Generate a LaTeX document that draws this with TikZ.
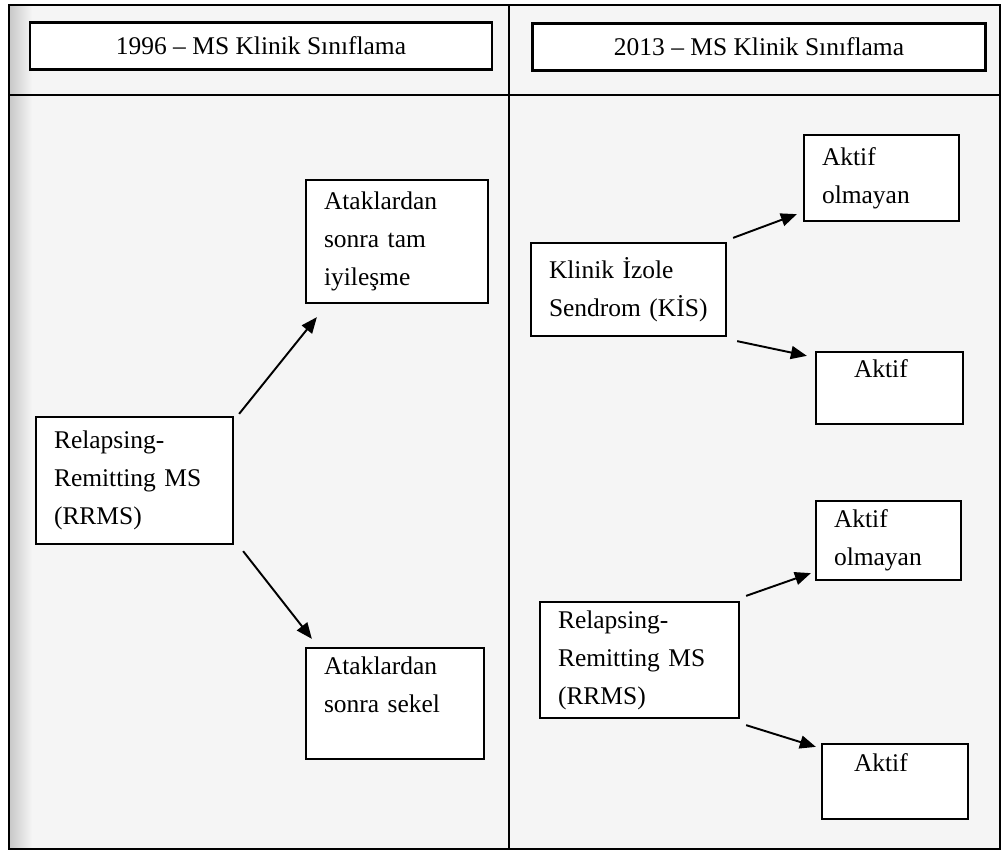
\documentclass[tikz,border=0pt]{standalone}
\usepackage{fontspec}
\setmainfont{Liberation Serif}
\usetikzlibrary{arrows.meta}

\begin{document}
\begin{tikzpicture}[
	x=0.02cm, y=-0.02cm,
	font=\fontsize{14.5}{21.6}\selectfont,
	box/.style={draw, line width=1.3pt, fill=white, align=left, inner xsep=0.36cm, inner ysep=0pt},
	head/.style={draw, line width=1.3pt, fill=white, align=center, inner sep=0pt},
	arrow/.style={-{Triangle[length=0.32cm, width=0.26cm]}, line width=1.1pt},
	frame/.style={line width=1.3pt}
]
\useasboundingbox (0,0) rectangle (1004,852);

% Frame
\fill[black!4] (9,5) rectangle (1000,849);
\shade[left color=black!22, right color=black!4] (9,5) rectangle (32,849);
\draw[frame] (9,5) rectangle (1000,849);
\draw[frame] (9,95) -- (1000,95);
\draw[frame] (509,5) -- (509,849);

% Nodes
\node[head, minimum width=9.24cm, minimum height=0.94cm] (old) at (261,46) {1996 – MS Klinik Sınıflama};
\node[head, minimum width=9.06cm, minimum height=0.94cm] (new) at (759,47) {2013 – MS Klinik Sınıflama};

\node[box, text width=2.92cm, minimum height=2.46cm] (tam) at (397,241.5) {Ataklardan\\sonra tam\\iyileşme};
\node[box, text width=3.22cm, minimum height=2.54cm] (rrmsA) at (134.5,480.5) {Relapsing-\\Remitting MS\\(RRMS)};
\node[box, text width=2.84cm, minimum height=2.22cm] (sekel) at (395,703.5) {Ataklardan\\sonra sekel\\ \mbox{}};

\node[box, text width=3.18cm, minimum height=1.86cm] (kis) at (628.5,289.5) {Klinik İzole\\Sendrom (KİS)};
\node[box, text width=2.38cm, minimum height=1.72cm] (pasifA) at (881.5,178) {Aktif\\olmayan};
\node[box, text width=2.22cm, minimum height=1.44cm] (aktifA) at (889.5,388) {\hspace*{0.4cm}Aktif\\ \mbox{}};

\node[box, text width=3.26cm, minimum height=2.32cm] (rrmsB) at (639.5,660) {Relapsing-\\Remitting MS\\(RRMS)};
\node[box, text width=2.18cm, minimum height=1.58cm] (pasifB) at (888.5,540.5) {Aktif\\olmayan};
\node[box, text width=2.2cm, minimum height=1.5cm] (aktifB) at (895,781.5) {\hspace*{0.28cm}Aktif\\ \mbox{}};

% Edges
\draw[arrow] ([shift={(5,-2)}]rrmsA.north east) -- ([shift={(12,13)}]tam.south west);
\draw[arrow] ([shift={(9,6)}]rrmsA.south east) -- ([shift={(7,-8)}]sekel.north west);
\draw[arrow] ([shift={(6,-4)}]kis.north east) -- ([shift={(-6,-8)}]pasifA.south west);
\draw[arrow] ([shift={(10,4)}]kis.south east) -- ([shift={(-8,5)}]aktifA.north west);
\draw[arrow] ([shift={(6,-5)}]rrmsB.north east) -- ([shift={(-4,-8)}]pasifB.south west);
\draw[arrow] ([shift={(6,6)}]rrmsB.south east) -- ([shift={(-5,4)}]aktifB.north west);

\end{tikzpicture}
\end{document}
